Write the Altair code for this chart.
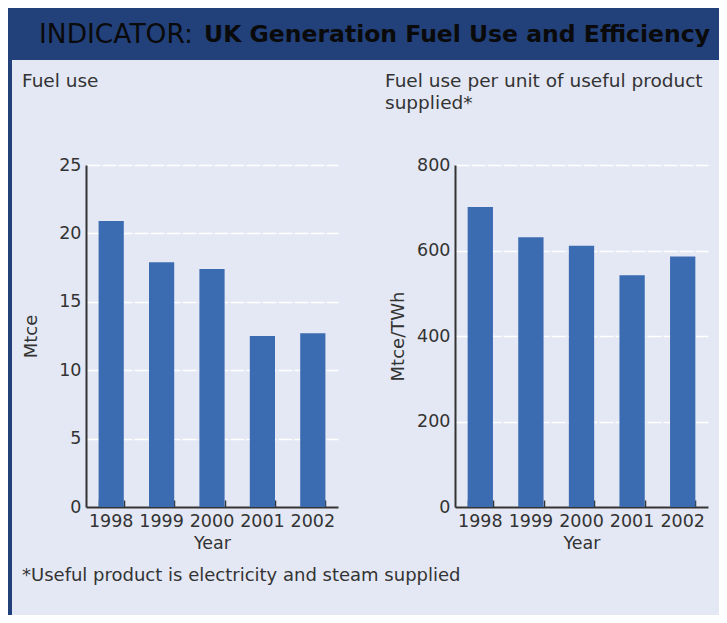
import altair as alt
import pandas as pd

# ---- data ----
years = ["1998", "1999", "2000", "2001", "2002"]
fuel_use = [20.9, 17.9, 17.4, 12.5, 12.7]            # Mtce
fuel_per_unit = [702, 631, 611, 542, 586]            # Mtce/TWh
left_ticks = [0, 5, 10, 15, 20, 25]
right_ticks = [0, 200, 400, 600, 800]

title_normal = "INDICATOR:"
title_bold = "UK Generation Fuel Use and Efficiency"
left_title = ["Fuel use", " "]
right_title = ["Fuel use per unit of useful product", "supplied*"]
footnote = "*Useful product is electricity and steam supplied"

BG = "#E4E8F4"
NAVY = "#22407A"
BAR = "#3B6BB1"
TXT = "#333333"
FONT = "DejaVu Sans"
PLOT_H = 342
TOTAL_W = 711
TOTAL_H = 607
BANNER_H = 52

one = pd.DataFrame({"a": [0]})


def panel(values, ydomain, yticks, ytitle, title_pad, plot_w, ttl, dx):
    df = pd.DataFrame({"Year": years, "v": values})
    xscale = alt.Scale(paddingInner=0.5, paddingOuter=0.25)
    yenc = alt.Y(
        "v:Q",
        scale=alt.Scale(domain=ydomain, nice=False),
        axis=alt.Axis(
            values=yticks, title=ytitle, grid=True, gridColor="white",
            gridWidth=1.5, gridDash=[14, 2], ticks=False, domain=True,
            domainColor=TXT, domainWidth=2, labelPadding=5,
            labelFont=FONT, labelFontSize=17.5, labelColor=TXT,
            titleFont=FONT, titleFontSize=18, titleColor=TXT,
            titleFontWeight="normal", titlePadding=title_pad,
        ),
    )
    bars = alt.Chart(df).mark_bar(color=BAR).encode(
        x=alt.X(
            "Year:N", scale=xscale, sort=years,
            axis=alt.Axis(
                title="Year", ticks=False, domain=True, domainColor=TXT,
                domainWidth=2, labelAngle=0, labelPadding=5, labelOverlap=False,
                labelFont=FONT, labelFontSize=17.5, labelColor=TXT,
                titleFont=FONT, titleFontSize=17.5, titleColor=TXT,
                titleFontWeight="normal", titlePadding=5,
            ),
        ),
        y=yenc,
    )
    tick_layer = alt.Chart(df).mark_bar(opacity=0).encode(
        x=alt.X(
            "Year:N", scale=xscale, sort=years,
            axis=alt.Axis(
                orient="top", offset=-PLOT_H, labels=False, domain=False,
                grid=False, ticks=True, tickBand="extent", tickSize=7,
                tickColor=TXT, tickWidth=1.5, title=None,
            ),
        ),
        y=yenc,
    )
    return alt.layer(bars, tick_layer).resolve_axis(x="independent").properties(
        width=plot_w, height=PLOT_H,
        title=alt.TitleParams(
            ttl, anchor="start", frame="group", dx=dx, offset=44,
            font=FONT, fontSize=18.5, fontWeight="normal", color=TXT,
            lineHeight=22,
        ),
    )


left = panel(fuel_use, [0, 25], left_ticks, "Mtce", 18, 252, left_title, -64)
right = panel(fuel_per_unit, [0, 800], right_ticks, "Mtce/TWh", 9, 253, right_title, -70)
body = alt.hconcat(left, right, spacing=47)

# banner
banner_rect = alt.Chart(one).mark_rect(color=NAVY).encode(
    x=alt.value(0), x2=alt.value(TOTAL_W), y=alt.value(0), y2=alt.value(BANNER_H)
)
banner_t1 = alt.Chart(one).mark_text(
    text=title_normal, font=FONT, fontSize=26.5, color="#0a0a0a",
    align="left", baseline="middle",
).encode(x=alt.value(31), y=alt.value(27))
banner_t2 = alt.Chart(one).mark_text(
    text=title_bold, font=FONT, fontSize=23.5, fontWeight="bold", color="#0a0a0a",
    align="right", baseline="middle",
).encode(x=alt.value(702), y=alt.value(27))
banner = alt.layer(banner_rect, banner_t1, banner_t2).properties(
    width=TOTAL_W, height=BANNER_H
)

strip = alt.Chart(one).mark_rect(color=NAVY).encode(
    x=alt.value(0), x2=alt.value(4), y=alt.value(0), y2=alt.value(TOTAL_H - BANNER_H)
).properties(width=4, height=TOTAL_H - BANNER_H)

spacer = alt.Chart(one).mark_rect(opacity=0).encode(
    x=alt.value(0), x2=alt.value(1), y=alt.value(0), y2=alt.value(1)
).properties(width=10, height=11)

foot = alt.Chart(one).mark_text(
    text=footnote, font=FONT, fontSize=18, color=TXT, align="left", baseline="middle"
).encode(x=alt.value(-64), y=alt.value(24)).properties(width=500, height=40)

column = alt.vconcat(spacer, body, foot, spacing=0)
lower = alt.hconcat(strip, column, spacing=10)

chart = alt.vconcat(banner, lower, spacing=0).properties(
    background=BG, padding=0
).configure_view(stroke=None)

chart.save("out.html", embed_options={"renderer": "svg", "actions": False})
